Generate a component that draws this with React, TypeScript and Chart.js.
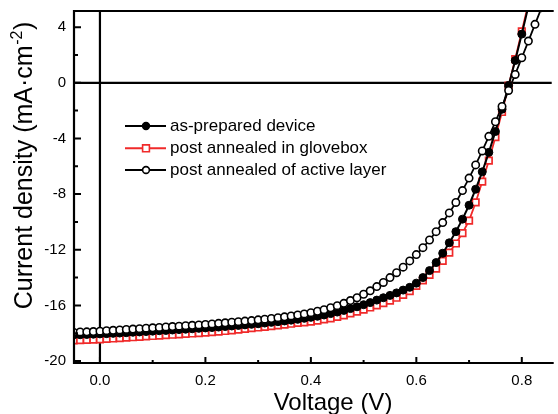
import React, { useEffect, useRef } from "react";
import { Chart, registerables } from "chart.js";

Chart.register(...registerables);

const voltage = [
  -0.05, -0.0375, -0.025, -0.0125, 0, 0.0125, 0.025, 0.0375, 0.05, 0.0625,
  0.075, 0.0875, 0.1, 0.1125, 0.125, 0.1375, 0.15, 0.1625, 0.175, 0.1875,
  0.2, 0.2125, 0.225, 0.2375, 0.25, 0.2625, 0.275, 0.2875, 0.3, 0.3125,
  0.325, 0.3375, 0.35, 0.3625, 0.375, 0.3875, 0.4, 0.4125, 0.425, 0.4375,
  0.45, 0.4625, 0.475, 0.4875, 0.5, 0.5125, 0.525, 0.5375, 0.55, 0.5625,
  0.575, 0.5875, 0.6, 0.6125, 0.625, 0.6375, 0.65, 0.6625, 0.675, 0.6875,
  0.7, 0.7125, 0.725, 0.7375, 0.75, 0.7625, 0.775, 0.7875, 0.8, 0.8125,
  0.825, 0.8375, 0.85,
];

const asPrepared = [
  -18.12, -18.11, -18.09, -18.07, -18.05, -18.03, -18.01, -17.99, -17.96, -17.93,
  -17.91, -17.88, -17.85, -17.82, -17.8, -17.77, -17.74, -17.71, -17.68, -17.65,
  -17.62, -17.59, -17.56, -17.52, -17.48, -17.44, -17.4, -17.36, -17.32, -17.27,
  -17.22, -17.17, -17.12, -17.06, -17.0, -16.93, -16.86, -16.78, -16.69, -16.59,
  -16.48, -16.36, -16.23, -16.1, -15.95, -15.8, -15.62, -15.45, -15.28, -15.1,
  -14.9, -14.7, -14.4, -14.0, -13.5, -12.92, -12.25, -11.5, -10.7, -9.8,
  -8.8, -7.65, -6.4, -5.0, -3.5, -1.9, -0.2, 1.6, 3.5, 5.5,
  7.5, 9.5, 11.5,
];

const annealedGlovebox = [
  -18.52, -18.5, -18.48, -18.46, -18.44, -18.41, -18.38, -18.35, -18.32, -18.29,
  -18.26, -18.23, -18.2, -18.17, -18.14, -18.11, -18.08, -18.05, -18.02, -17.99,
  -17.96, -17.92, -17.88, -17.84, -17.79, -17.74, -17.69, -17.64, -17.59, -17.54,
  -17.49, -17.44, -17.38, -17.32, -17.26, -17.22, -17.16, -17.09, -17.01, -16.93,
  -16.83, -16.71, -16.58, -16.45, -16.3, -16.15, -16.0, -15.83, -15.65, -15.45,
  -15.25, -14.98, -14.6, -14.2, -13.8, -13.35, -12.8, -12.2, -11.55, -10.8,
  -9.9, -8.6, -7.1, -5.6, -3.9, -2.1, -0.2, 1.7, 3.7, 5.7,
  7.7, 9.7, 11.7,
];

const annealedActive = [
  -17.92, -17.91, -17.9, -17.88, -17.85, -17.82, -17.79, -17.76, -17.73, -17.7,
  -17.67, -17.64, -17.61, -17.58, -17.55, -17.52, -17.49, -17.46, -17.43, -17.4,
  -17.37, -17.33, -17.29, -17.25, -17.21, -17.17, -17.13, -17.09, -17.04, -16.99,
  -16.94, -16.88, -16.82, -16.76, -16.69, -16.61, -16.52, -16.42, -16.31, -16.17,
  -16.02, -15.85, -15.65, -15.45, -15.2, -14.95, -14.65, -14.35, -14.0, -13.65,
  -13.25, -12.8, -12.35, -11.85, -11.3, -10.7, -10.05, -9.35, -8.6, -7.75,
  -6.85, -5.9, -4.9, -3.85, -2.8, -1.7, -0.55, 0.6, 1.8, 3.0,
  4.2, 5.4, 6.6,
];

const seriesNames = [
  "as-prepared device",
  "post annealed in glovebox",
  "post annealed of active layer",
];

const xTicks = [0, 0.2, 0.4, 0.6, 0.8];
const xMinorTicks = [0.1, 0.3, 0.5, 0.7];
const yTicks = [-20, -16, -12, -8, -4, 0, 4];
const yMinorTicks = [-18, -14, -10, -6, -2, 2];

const FONT = "'Liberation Sans', Arial, Helvetica, sans-serif";
const RED = "#f02a2a";

const toPoints = (ys: number[]) => voltage.map((v, i) => ({ x: v, y: ys[i] }));

const decorPlugin = {
  id: "decor",
  beforeDatasetsDraw(chart: any) {
    const { ctx, chartArea, scales } = chart;
    const { left, right, top, bottom } = chartArea;
    const x0 = scales.x.getPixelForValue(0);
    const y0 = scales.y.getPixelForValue(0);
    ctx.save();
    ctx.strokeStyle = "#000";
    ctx.lineWidth = 2.2;
    ctx.beginPath();
    ctx.moveTo(x0, top);
    ctx.lineTo(x0, bottom);
    ctx.moveTo(left, y0);
    ctx.lineTo(right, y0);
    ctx.stroke();
    ctx.restore();
  },
  afterDraw(chart: any) {
    const { ctx, chartArea, scales } = chart;
    const { left, right, top, bottom } = chartArea;
    ctx.save();
    ctx.strokeStyle = "#000";
    ctx.lineWidth = 2.2;
    ctx.beginPath();
    ctx.moveTo(right + 2, top);
    ctx.lineTo(left, top);
    ctx.lineTo(left, bottom);
    ctx.lineTo(right + 2, bottom);
    ctx.stroke();
    ctx.lineWidth = 2;
    ctx.beginPath();
    yTicks.forEach((t) => {
      const y = scales.y.getPixelForValue(t);
      ctx.moveTo(left, y);
      ctx.lineTo(left + 7, y);
    });
    yMinorTicks.forEach((t) => {
      const y = scales.y.getPixelForValue(t);
      ctx.moveTo(left, y);
      ctx.lineTo(left + 4, y);
    });
    xTicks.forEach((t) => {
      const x = scales.x.getPixelForValue(t);
      ctx.moveTo(x, bottom);
      ctx.lineTo(x, bottom - 6);
    });
    xMinorTicks.forEach((t) => {
      const x = scales.x.getPixelForValue(t);
      ctx.moveTo(x, bottom);
      ctx.lineTo(x, bottom - 3);
    });
    ctx.stroke();

    ctx.fillStyle = "#000";
    ctx.font = `24px ${FONT}`;
    ctx.textAlign = "center";
    ctx.textBaseline = "alphabetic";
    ctx.fillText("Voltage (V)", 333, 410);

    const part1 = "Current density (mA\u00b7cm";
    const sup = "-2";
    const part3 = ")";
    ctx.font = `25px ${FONT}`;
    const w1 = ctx.measureText(part1).width;
    const w3 = ctx.measureText(part3).width;
    ctx.font = `16px ${FONT}`;
    const w2 = ctx.measureText(sup).width;
    const total = w1 + w2 + w3;
    ctx.translate(32, 166);
    ctx.rotate(-Math.PI / 2);
    ctx.textAlign = "left";
    let cx = -total / 2;
    ctx.font = `25px ${FONT}`;
    ctx.fillText(part1, cx, 0);
    cx += w1;
    ctx.font = `16px ${FONT}`;
    ctx.fillText(sup, cx + 0.5, -10);
    cx += w2 + 1;
    ctx.font = `25px ${FONT}`;
    ctx.fillText(part3, cx, 0);
    ctx.setTransform(1, 0, 0, 1, 0, 0);

    const rows = [126, 148.3, 170];
    const styles = [
      { color: "#000", fill: "#000", shape: "circle" },
      { color: RED, fill: "#fff", shape: "rect" },
      { color: "#000", fill: "#fff", shape: "circle" },
    ];
    rows.forEach((ry, i) => {
      const s = styles[i];
      ctx.strokeStyle = s.color;
      ctx.lineWidth = 2;
      ctx.beginPath();
      ctx.moveTo(125, ry);
      ctx.lineTo(166, ry);
      ctx.stroke();
      ctx.fillStyle = s.fill;
      ctx.lineWidth = 1.6;
      ctx.beginPath();
      if (s.shape === "circle") {
        ctx.arc(146, ry, 3.4, 0, Math.PI * 2);
      } else {
        ctx.rect(142.6, ry - 3.4, 6.8, 6.8);
      }
      ctx.fill();
      ctx.stroke();
      ctx.fillStyle = "#000";
      ctx.font = `17px ${FONT}`;
      ctx.textAlign = "left";
      ctx.textBaseline = "middle";
      ctx.fillText(seriesNames[i], 170, ry + 0.5);
    });
    ctx.restore();
  },
};

export default function App() {
  const ref = useRef<HTMLCanvasElement>(null);
  useEffect(() => {
    document.body.style.margin = "0";
    const canvas = ref.current;
    if (!canvas) return;
    const chart = new Chart(canvas, {
      type: "line",
      data: {
        datasets: [
          {
            label: seriesNames[2],
            data: toPoints(annealedActive),
            borderColor: "#000",
            borderWidth: 1.8,
            pointStyle: "circle",
            pointRadius: 3.7,
            pointBorderWidth: 1.6,
            pointBackgroundColor: "#fff",
            pointBorderColor: "#000",
            tension: 0,
            order: 0,
            clip: 0,
          },
          {
            label: seriesNames[0],
            data: toPoints(asPrepared),
            borderColor: "#000",
            borderWidth: 2,
            pointStyle: "circle",
            pointRadius: 4,
            pointBorderWidth: 1,
            pointBackgroundColor: "#000",
            pointBorderColor: "#000",
            tension: 0,
            order: 1,
            clip: 0,
          },
          {
            label: seriesNames[1],
            data: toPoints(annealedGlovebox),
            borderColor: RED,
            borderWidth: 1.8,
            pointStyle: "rect",
            pointRadius: 4.6,
            pointBorderWidth: 1.7,
            pointBackgroundColor: "#fff",
            pointBorderColor: RED,
            tension: 0,
            order: 2,
            clip: 0,
          },
        ],
      },
      options: {
        animation: false,
        responsive: false,
        maintainAspectRatio: false,
        devicePixelRatio: 1,
        layout: { padding: { top: 11, left: 0, right: 0, bottom: 0 } },
        plugins: {
          legend: { display: false },
          tooltip: { enabled: false },
          title: { display: false },
        },
        scales: {
          x: {
            type: "linear",
            min: -0.0492,
            max: 0.8567,
            grid: { display: false, drawTicks: false },
            border: { display: false },
            ticks: {
              color: "#000",
              font: { family: FONT, size: 15 },
              padding: 9,
              maxRotation: 0,
              autoSkip: false,
              callback: (v: any) => Number(v).toFixed(1),
            },
            afterBuildTicks: (s: any) => {
              s.ticks = xTicks.map((v) => ({ value: v }));
            },
            afterFit: (s: any) => {
              s.height = 51;
              s.paddingLeft = 0;
              s.paddingRight = 0;
              s.paddingTop = 0;
              s.paddingBottom = 0;
            },
          },
          y: {
            type: "linear",
            min: -20.14,
            max: 5.16,
            grid: { display: false, drawTicks: false },
            border: { display: false },
            ticks: {
              color: "#000",
              font: { family: FONT, size: 15 },
              padding: 8,
              autoSkip: false,
              callback: (v: any) => String(v),
            },
            afterBuildTicks: (s: any) => {
              s.ticks = yTicks.map((v) => ({ value: v }));
            },
            afterFit: (s: any) => {
              s.width = 74;
              s.paddingLeft = 0;
              s.paddingRight = 0;
              s.paddingTop = 0;
              s.paddingBottom = 0;
            },
          },
        },
      },
      plugins: [decorPlugin],
    } as any);
    return () => chart.destroy();
  }, []);

  return (
    <div style={{ position: "fixed", left: 0, top: 0, width: 558, height: 414, background: "#fff" }}>
      <canvas ref={ref} width={558} height={414} style={{ width: 558, height: 414, display: "block" }} />
    </div>
  );
}
